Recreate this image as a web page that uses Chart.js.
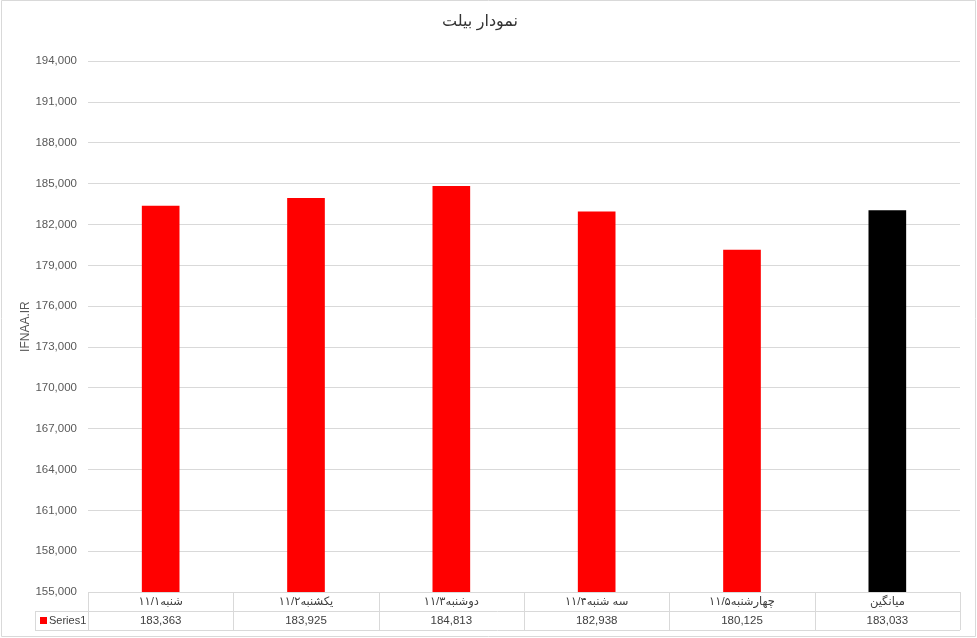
<!DOCTYPE html>
<html>
<head>
<meta charset="utf-8">
<script src="https://cdn.jsdelivr.net/npm/chart.js@4"></script>
<style>
  html, body { margin: 0; padding: 0; background: #fff; }
  #wrap { width: 977px; height: 638px; position: relative; }
</style>
</head>
<body>
<div id="wrap"><canvas id="graficoBilet" width="977" height="638"></canvas></div>
<script>
// datos
const categorias = ['شنبه۱۱/۱', 'یکشنبه۱۱/۲', 'دوشنبه۱۱/۳', 'سه شنبه۱۱/۴', 'چهارشنبه۱۱/۵', 'میانگین'];
const series1 = [183363, 183925, 184813, 182938, 180125, 183033];
const coloresBarras = ['#ff0000', '#ff0000', '#ff0000', '#ff0000', '#ff0000', '#000000'];
const nombreSerie = 'Series1';
const yMin = 155000, yMax = 194000, yPaso = 3000;

const FUENTE = '"Liberation Sans", "DejaVu Sans", sans-serif';
const GRIS = '#d9d9d9';

// tabla de datos bajo el grafico + borde exterior
const tablaDatos = {
    id: 'tablaDatos',
    afterDraw(chart) {
        const ctx = chart.ctx;
        const x = chart.scales.x;
        const area = chart.chartArea;
        const fila1 = area.bottom, fila2 = area.bottom + 19, fila3 = area.bottom + 38;
        const ancho = (area.right - area.left) / categorias.length;
        const xLeyenda = 35;

        ctx.save();
        ctx.strokeStyle = GRIS;
        ctx.lineWidth = 1;
        ctx.beginPath();
        ctx.moveTo(area.left, fila1 + 0.5); ctx.lineTo(area.right, fila1 + 0.5);
        ctx.moveTo(xLeyenda, fila2 + 0.5); ctx.lineTo(area.right, fila2 + 0.5);
        ctx.moveTo(xLeyenda, fila3 + 0.5); ctx.lineTo(area.right, fila3 + 0.5);
        ctx.moveTo(xLeyenda + 0.5, fila2); ctx.lineTo(xLeyenda + 0.5, fila3);
        for (let i = 0; i <= categorias.length; i++) {
            const px = Math.round(area.left + i * ancho) + 0.5;
            ctx.moveTo(px, fila1); ctx.lineTo(px, fila3);
        }
        // borde exterior
        ctx.rect(1.5, 0.5, 974, 636);
        ctx.stroke();

        ctx.fillStyle = '#404040';
        ctx.textAlign = 'center';
        ctx.textBaseline = 'middle';
        ctx.font = '11.5px ' + FUENTE;
        categorias.forEach((c, i) => {
            const cx = x.getPixelForValue(i);
            ctx.direction = 'rtl';
            ctx.fillText(c, cx, fila1 + 10);
            ctx.direction = 'ltr';
            ctx.fillText(series1[i].toLocaleString('en-US'), cx, fila2 + 10);
        });

        // clave de la serie
        ctx.fillStyle = '#ff0000';
        ctx.fillRect(40, fila2 + 6, 7, 7);
        ctx.fillStyle = '#404040';
        ctx.textAlign = 'left';
        ctx.font = '11px ' + FUENTE;
        ctx.fillText(nombreSerie, 49, fila2 + 10);
        ctx.restore();
    }
};

const ctx = document.getElementById('graficoBilet').getContext('2d');
new Chart(ctx, {
    type: 'bar',
    data: {
        labels: categorias,
        datasets: [{
            label: nombreSerie,
            data: series1,
            backgroundColor: coloresBarras,
            barThickness: 37
        }]
    },
    options: {
        responsive: false,
        animation: false,
        layout: { padding: { left: 0, right: 17, top: 0, bottom: 46 } },
        plugins: {
            legend: { display: false },
            tooltip: { enabled: false },
            title: {
                display: true,
                text: 'نمودار بیلت',
                color: '#333333',
                font: { family: FUENTE, size: 16, weight: 'normal', lineHeight: 1.2 },
                padding: { top: 12, bottom: 30 }
            }
        },
        scales: {
            x: { display: false },
            y: {
                min: yMin,
                max: yMax,
                afterFit(scale) { scale.width = 88; },
                ticks: {
                    stepSize: yPaso,
                    padding: 11,
                    color: '#595959',
                    font: { family: FUENTE, size: 11.5 },
                    callback: v => v.toLocaleString('en-US')
                },
                grid: { color: GRIS, drawTicks: false },
                border: { display: false },
                title: {
                    display: true,
                    text: 'IFNAA.IR',
                    color: '#595959',
                    font: { family: FUENTE, size: 12 },
                    padding: { top: 18, bottom: 0 }
                }
            }
        }
    },
    plugins: [tablaDatos]
});
</script>
</body>
</html>
